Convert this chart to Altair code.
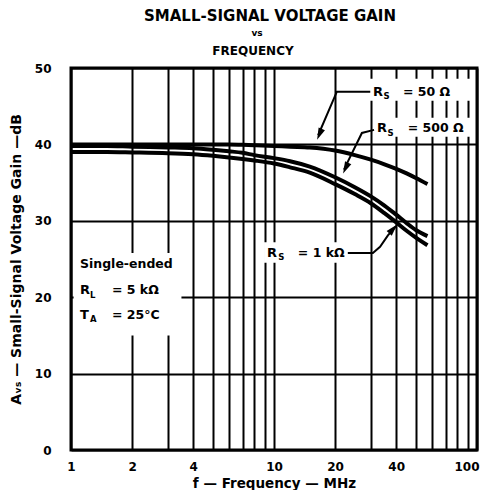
import altair as alt
import pandas as pd

# ---- data ----
freq = [1, 1.5, 2, 3, 4, 5, 6, 7, 8, 10, 12, 15, 20, 25, 30, 35, 40, 45, 50, 57]
gain_rs50 = [40.0, 40.0, 40.0, 40.0, 40.0, 40.0, 40.0, 39.95, 39.9, 39.8, 39.7, 39.6, 39.2, 38.6, 38.0, 37.4, 36.8, 36.2, 35.6, 34.8]
gain_rs500 = [39.8, 39.8, 39.7, 39.6, 39.5, 39.3, 39.1, 38.9, 38.6, 38.2, 37.8, 37.1, 35.7, 34.4, 33.2, 32.0, 30.8, 29.7, 28.8, 28.0]
gain_rs1k = [39.0, 39.0, 38.95, 38.85, 38.7, 38.5, 38.3, 38.1, 37.9, 37.5, 37.0, 36.3, 34.8, 33.5, 32.3, 31.0, 29.8, 28.7, 27.8, 26.8]

grid_freq = [1, 2, 3, 4, 5, 6, 7, 8, 9, 10, 20, 30, 40, 50, 60, 70, 80, 90, 100]
label_freq = [1, 2, 4, 10, 20, 40, 100]
grid_gain = [0, 10, 20, 30, 40, 50]

# annotation text (position in frequency / dB units)
ann_text = ["Single-ended", "R", "L", "= 5 kΩ", "T", "A", "= 25°C",
            "R", "S", "= 1 kΩ", "R", "S", "= 50 Ω", "R", "S", "= 500 Ω"]
ann_f = [1.107, 1.107, 1.24, 1.592, 1.107, 1.24, 1.592,
         9.23, 10.5, 13.1, 30.7, 34.6, 43.2, 32.2, 36.2, 45.6]
ann_db = [24.3, 20.9, 20.3, 20.9, 17.7, 17.1, 17.7,
          25.8, 25.2, 25.8, 46.9, 46.3, 46.9, 42.1, 41.5, 42.1]
ann_size = [12.5, 13, 8.5, 12.5, 13, 8.5, 12.5,
            13, 8.5, 12.5, 13, 8.5, 12.5, 13, 8.5, 12.5]

# white label boxes that interrupt the grid
box_f1 = [1.03, 29.7, 31.1, 8.93]
box_f2 = [3.5, 95, 95, 23.2]
box_db1 = [15.0, 45.7, 41.0, 24.5]
box_db2 = [25.8, 48.6, 43.5, 27.2]

# leader lines
lead_grp = ["50", "50", "50", "500", "500", "500", "1k", "1k", "1k", "1k", "1k"]
lead_f = [29.8, 20.4, 16.5, 31.1, 27.1, 22.1, 23.1, 30.7, 33.3, 36.4, 40.0]
lead_db = [46.9, 46.9, 41.2, 41.9, 41.5, 36.7, 25.8, 25.8, 26.6, 28.1, 29.3]
tip_f = [16.3, 21.9, 40.4]
tip_db = [40.6, 36.2, 29.5]
tip_angle = [203.5, 205.4, 42]

FONT = "DejaVu Sans"

curves = pd.DataFrame({
    "f": freq * 3,
    "db": gain_rs50 + gain_rs500 + gain_rs1k,
    "series": ["50"] * len(freq) + ["500"] * len(freq) + ["1k"] * len(freq),
})
ann = pd.DataFrame({"f": ann_f, "db": ann_db, "t": ann_text, "fs": ann_size})
boxes = pd.DataFrame({"f": box_f1, "f2": box_f2, "db": box_db1, "db2": box_db2})
leads = pd.DataFrame({"f": lead_f, "db": lead_db, "grp": lead_grp, "i": list(range(len(lead_f)))})
tips = pd.DataFrame({"f": tip_f, "db": tip_db, "ang": tip_angle})

xscale = alt.Scale(type="log", domain=[1, 100], nice=False)
yscale = alt.Scale(domain=[0, 50], nice=False, zero=False)
label_list = ",".join(str(v) for v in label_freq)
xaxis = alt.Axis(values=grid_freq, grid=True, gridColor="black", gridWidth=2, gridOpacity=1,
                 ticks=False, domain=False, labelFlush=False, labelOverlap=False, labelBound=False,
                 labelExpr=f"indexof([{label_list}], datum.value) >= 0 ? datum.label : ''",
                 labelAlign={"condition": {"test": "datum.value >= 100", "value": "right"},
                             "value": "center"},
                 labelOffset={"condition": {"test": "datum.value >= 100", "value": 2},
                              "value": 0},
                 labelFont=FONT, labelFontSize=12, labelFontWeight="bold", labelColor="black",
                 labelPadding=11, title="f — Frequency — MHz", titleFont=FONT, titleFontSize=13.5,
                 titleFontWeight="bold", titleColor="black", titlePadding=4)
yaxis = alt.Axis(values=grid_gain, grid=True, gridColor="black", gridWidth=2, gridOpacity=1,
                 ticks=False, domain=False, labelFlush=False, labelOverlap=False,
                 labelFont=FONT, labelFontSize=12, labelFontWeight="bold", labelColor="black",
                 labelPadding=20, title="Aᵥₛ — Small-Signal Voltage Gain —dB", titleFont=FONT,
                 titleFontSize=14, titleFontWeight="bold", titleColor="black", titlePadding=11)

X = alt.X("f:Q", scale=xscale, axis=xaxis)
Y = alt.Y("db:Q", scale=yscale, axis=yaxis)

box_layer = alt.Chart(boxes).mark_rect(fill="white", stroke=None).encode(
    x=X, x2="f2:Q", y=Y, y2="db2:Q")

curve_layer = alt.Chart(curves).mark_line(color="black", strokeWidth=4, interpolate="monotone").encode(
    x=X, y=Y, detail="series:N")

lead_layer = alt.Chart(leads).mark_line(color="black", strokeWidth=2).encode(
    x=X, y=Y, detail="grp:N", order="i:Q")

tip_layer = alt.Chart(tips).mark_point(
    shape="M0,0L0.38,1.3L-0.38,1.3Z", filled=True, color="black", opacity=1, size=330, strokeWidth=0
).encode(x=X, y=Y, angle=alt.Angle("ang:Q", scale=None))

text_layer = alt.Chart(ann).mark_text(align="left", baseline="middle", font=FONT,
                                      fontWeight="bold", color="black").encode(
    x=X, y=Y, text="t:N", size=alt.Size("fs:Q", scale=None, legend=None))

one = pd.DataFrame({"k": [0]})
t1 = alt.Chart(one).mark_text(text="SMALL-SIGNAL VOLTAGE GAIN", font=FONT, fontSize=15,
                              fontWeight="bold", color="black", baseline="middle").encode(
    x=alt.value(199), y=alt.value(-52))
t2 = alt.Chart(one).mark_text(text="vs", font=FONT, fontSize=9, fontWeight="bold",
                              color="black", baseline="middle").encode(
    x=alt.value(186), y=alt.value(-35))
t3 = alt.Chart(one).mark_text(text="FREQUENCY", font=FONT, fontSize=12, fontWeight="bold",
                              color="black", baseline="middle").encode(
    x=alt.value(182), y=alt.value(-17))

chart = alt.layer(box_layer, curve_layer, lead_layer, tip_layer, text_layer, t1, t2, t3).properties(
    width=406, height=382,
    autosize=alt.AutoSizeParams(type="none"),
    padding={"left": 63, "top": 60, "right": 3, "bottom": 40},
    background="white",
).configure_view(stroke="black", strokeWidth=3)

chart.save("out.html", embed_options={"renderer": "svg", "actions": False})
